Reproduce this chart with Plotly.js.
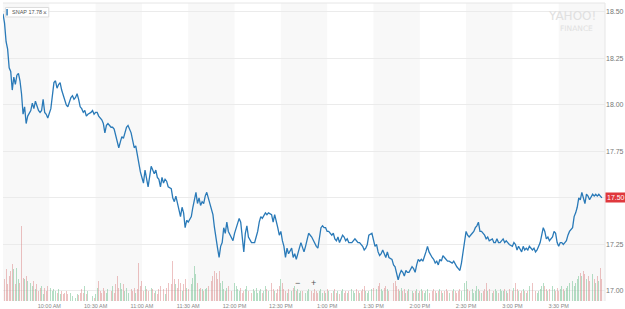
<!DOCTYPE html>
<html>
<head>
<meta charset="utf-8">
<script src="https://cdn.plot.ly/plotly-3.0.1.min.js"></script>
<style>
html,body{margin:0;padding:0;background:#fff;}
#chart{width:625px;height:309px;}
</style>
</head>
<body>
<div id="chart"></div>
<script>
// ---- data ----
const sessionDate = '2017-03-23';
const ticker = 'SNAP';
const legendPrice = '17.78';
const lastPrice = 17.50;

// minutes after the 9:30 AM open
const minutes = [
0,1,2,3,4,5,6,7,8,9,10,11,12,13,14,15,16,18,19,20,21,22,23,24,25,26,27,28,29,31,32,33,34,35,36,37,38,39,40,41,42,44,45,46,47,48,49,50,51,52,53,54,55,57,58,59,60,61,62,63,
64,65,66,67,68,70,71,72,73,74,75,76,77,78,79,80,81,83,84,85,86,87,88,89,90,91,92,93,94,96,97,98,99,100,101,102,103,104,105,106,107,109,110,111,112,113,114,115,116,117,118,119,120,122,123,124,125,126,127,128,
129,130,131,132,133,135,136,137,138,139,140,141,142,143,144,145,146,148,149,150,151,152,153,154,155,156,157,158,159,161,162,163,164,165,166,167,168,169,170,171,172,174,175,176,177,178,179,180,181,182,183,184,185,187,188,189,190,191,192,193,
194,195,196,197,198,200,201,202,203,204,205,206,207,208,209,210,211,213,214,215,216,217,218,219,220,221,222,223,224,226,227,228,229,230,231,232,233,234,235,236,237,239,240,241,242,243,244,245,246,247,248,249,250,252,253,254,255,256,257,258,
259,260,261,262,263,265,266,267,268,269,270,271,272,273,274,275,276,278,279,280,281,282,283,284,285,286,287,288,289,291,292,293,294,295,296,297,298,299,300,301,302,304,305,306,307,308,309,310,311,312,313,314,315,317,318,319,320,321,322,323,
324,325,326,327,328,330,331,332,333,334,335,336,337,338,339,340,341,343,344,345,346,347,348,349,350,351,352,353,354,356,357,358,359,360,361,362,363,364,365,366,367,369,370,371,372,373,374,375,376,377,378,379,380,382,383,384,385,386,387,388
];

const prices = [
18.49,18.44,18.34,18.30,18.20,18.18,18.08,18.15,18.11,18.16,18.17,18.13,18.06,17.95,17.99,17.90,17.94,17.97,18.01,17.98,18.02,17.99,17.97,17.96,17.97,18.03,17.96,17.95,17.93,17.98,18.04,18.12,18.13,18.09,18.11,18.12,18.08,18.05,18.03,18.00,17.99,18.04,18.05,18.03,18.04,18.06,18.03,17.99,17.98,17.96,17.97,17.94,17.95,17.96,17.97,17.95,17.96,17.96,17.94,17.93,
17.92,17.90,17.85,17.89,17.90,17.88,17.88,17.87,17.84,17.80,17.77,17.80,17.83,17.82,17.85,17.88,17.89,17.85,17.81,17.77,17.78,17.73,17.69,17.64,17.61,17.58,17.65,17.61,17.56,17.67,17.65,17.63,17.65,17.61,17.60,17.56,17.61,17.58,17.60,17.59,17.56,17.55,17.50,17.48,17.51,17.47,17.44,17.40,17.45,17.42,17.34,17.38,17.37,17.40,17.45,17.50,17.53,17.47,17.50,17.46,
17.48,17.47,17.51,17.53,17.50,17.44,17.41,17.34,17.27,17.23,17.18,17.24,17.26,17.34,17.31,17.37,17.32,17.28,17.27,17.31,17.34,17.37,17.39,17.37,17.27,17.21,17.31,17.35,17.29,17.26,17.26,17.26,17.29,17.32,17.37,17.40,17.39,17.41,17.42,17.41,17.42,17.41,17.37,17.41,17.38,17.34,17.30,17.32,17.27,17.24,17.18,17.23,17.20,17.23,17.18,17.20,17.17,17.21,17.23,17.26,
17.23,17.21,17.24,17.27,17.31,17.29,17.27,17.26,17.24,17.23,17.29,17.34,17.35,17.34,17.34,17.32,17.32,17.30,17.31,17.28,17.27,17.29,17.26,17.28,17.30,17.29,17.27,17.28,17.26,17.26,17.27,17.28,17.27,17.26,17.26,17.25,17.24,17.22,17.23,17.25,17.30,17.31,17.27,17.24,17.25,17.21,17.19,17.20,17.22,17.20,17.18,17.21,17.18,17.17,17.14,17.13,17.10,17.06,17.09,17.11,
17.10,17.08,17.11,17.10,17.10,17.13,17.12,17.10,17.14,17.17,17.16,17.17,17.16,17.18,17.21,17.24,17.21,17.18,17.17,17.15,17.16,17.14,17.17,17.16,17.19,17.18,17.17,17.16,17.16,17.15,17.16,17.14,17.13,17.12,17.11,17.15,17.20,17.26,17.32,17.30,17.29,17.31,17.32,17.34,17.35,17.37,17.32,17.32,17.31,17.30,17.28,17.29,17.27,17.28,17.26,17.26,17.28,17.26,17.26,17.27,
17.28,17.26,17.27,17.26,17.25,17.24,17.26,17.25,17.22,17.24,17.22,17.21,17.24,17.22,17.23,17.22,17.24,17.22,17.23,17.21,17.22,17.24,17.26,17.30,17.34,17.32,17.28,17.29,17.27,17.29,17.32,17.31,17.26,17.24,17.26,17.26,17.25,17.26,17.27,17.30,17.32,17.34,17.40,17.42,17.45,17.50,17.49,17.53,17.50,17.47,17.52,17.51,17.49,17.52,17.51,17.52,17.51,17.52,17.51,17.50
];

// volume (thousands of shares, same minutes as prices)
const volume = [
60,22,32,17,25,30,37,32,17,33,22,18,75,23,22,25,20,18,15,20,12,17,10,13,15,7,13,10,15,13,10,12,10,8,12,7,10,7,8,10,7,8,5,7,3,7,6,8,12,8,15,7,10,7,5,3,7,13,20,10,
8,13,10,8,12,10,15,8,17,25,13,18,12,17,10,13,8,12,10,13,8,12,38,15,20,10,15,12,10,13,12,8,10,7,12,15,10,12,7,13,18,17,40,22,17,13,22,18,10,17,22,13,12,17,23,35,27,18,12,13,
12,10,12,13,15,20,25,30,28,22,30,18,20,12,10,13,15,10,12,18,15,12,10,13,8,10,12,15,10,8,12,10,13,8,10,12,8,10,15,12,10,18,12,10,8,12,15,22,18,12,10,8,12,10,13,15,10,12,8,10,
10,12,8,10,12,10,8,12,10,8,10,12,8,10,8,12,10,8,10,12,8,10,7,10,12,8,10,8,10,12,10,8,12,10,8,10,12,15,10,8,10,12,13,10,12,15,18,12,10,13,15,12,10,13,18,20,15,12,10,13,
10,12,8,10,12,10,8,10,12,8,10,12,10,8,10,12,8,10,12,10,8,10,12,10,8,10,12,10,8,10,12,10,8,10,12,10,15,18,20,12,10,12,8,10,15,12,10,8,10,12,18,10,12,8,10,12,10,8,12,10,
10,12,10,8,12,10,13,18,12,10,8,10,12,10,8,10,15,18,12,10,8,10,12,15,18,15,12,10,12,15,12,10,13,10,12,15,12,10,13,15,18,20,15,18,22,25,28,25,30,27,22,25,20,27,22,18,25,20,33,22
];

const yTicks = [17.00, 17.25, 17.50, 17.75, 18.00, 18.25, 18.50];
const xTickClock = ['09:30','10:00','10:30','11:00','11:30','12:00','12:30','13:00','13:30','14:00','14:30','15:00','15:30'];

// ---- helpers ----
function pad(n){ return (n < 10 ? '0' : '') + n; }
function toTime(m){
  const total = 9*60 + 30 + m;
  return sessionDate + ' ' + pad(Math.floor(total/60)) + ':' + pad(total % 60) + ':00';
}
const times = minutes.map(toTime);
const n = Math.min(prices.length, volume.length, minutes.length);
const volColors = [];
for (let i = 0; i < n; i++) {
  const up = i === 0 ? false : prices[i] >= prices[i-1];
  volColors.push(up ? 'rgba(120,195,150,0.55)' : 'rgba(215,120,120,0.45)');
}

const openT = sessionDate + ' 09:30:00';
const closeT = sessionDate + ' 16:00:00';
const bandStarts = ['09:30','10:30','11:30','12:30','13:30','14:30','15:30'];
const bandEnds   = ['10:00','11:00','12:00','13:00','14:00','15:00','16:00'];

const shapes = bandStarts.map((s, i) => ({
  type:'rect', xref:'x', yref:'paper', layer:'below',
  x0: sessionDate + ' ' + s + ':00', x1: sessionDate + ' ' + bandEnds[i] + ':00',
  y0:0, y1:1, fillcolor:'#f8f8f8', line:{width:0}
}));
// top border & right border
shapes.push({type:'line', xref:'paper', yref:'paper', x0:0, x1:1, y0:1, y1:1, line:{color:'#e6e6e6', width:1}});
shapes.push({type:'line', xref:'paper', yref:'paper', x0:1, x1:1, y0:0, y1:1, line:{color:'#e6e6e6', width:1}});
// legend chip
shapes.push({type:'rect', xref:'paper', yref:'paper', x0:0.004, x1:0.076, y0:0.953, y1:0.985, fillcolor:'#ffffff', line:{color:'#dddddd', width:1}});
shapes.push({type:'rect', xref:'paper', yref:'paper', x0:0.0055, x1:0.008, y0:0.958, y1:0.98, fillcolor:'#2a7ab8', line:{width:0}});

const traces = [
  {
    type:'bar', x: times.slice(0,n), y: volume.slice(0,n), yaxis:'y2',
    marker:{color: volColors, line:{width:0}}, width: 38000,
    hoverinfo:'skip'
  },
  {
    type:'scatter', mode:'lines', x: times.slice(0,n), y: prices.slice(0,n),
    line:{color:'#2a7ab8', width:1.3}, hoverinfo:'skip'
  }
];

const layout = {
  width:625, height:309,
  margin:{l:3, r:20, t:3, b:8},
  paper_bgcolor:'#ffffff', plot_bgcolor:'#ffffff',
  showlegend:false,
  bargap:0,
  font:{family:'Liberation Sans, Arial, sans-serif', color:'#777'},
  xaxis:{
    type:'date', range:[openT, closeT],
    tickvals: xTickClock.map(c => sessionDate + ' ' + c + ':00'),
    tickformat:'%-I:%M %p',
    showgrid:false, zeroline:false, showline:false, ticks:'',
    tickfont:{size:5.5, color:'#888'}
  },
  yaxis:{
    side:'right', range:[16.946, 18.548],
    tickvals: yTicks, ticktext: yTicks.map(v => v.toFixed(2)),
    showgrid:true, gridcolor:'#ebebeb', gridwidth:1, zeroline:false, showline:false,
    ticks:'', tickfont:{size:7, color:'#777'}
  },
  yaxis2:{
    overlaying:'y', range:[0, 298], visible:false, fixedrange:true
  },
  shapes: shapes,
  annotations:[
    {xref:'paper', yref:'paper', x:0.011, y:0.969, xanchor:'left', yanchor:'middle',
     text: ticker + ' ' + legendPrice, showarrow:false, font:{size:5.5, color:'#555'}},
    {xref:'paper', yref:'paper', x:0.0705, y:0.969, xanchor:'center', yanchor:'middle',
     text:'×', showarrow:false, font:{size:6.5, color:'#666'}},
    {xref:'paper', yref:'paper', x:0.988, y:0.985, xanchor:'right', yanchor:'top',
     text:'YAHOO!', showarrow:false, font:{size:12, color:'#e0e0e0', family:'DejaVu Sans, sans-serif'}},
    {xref:'paper', yref:'paper', x:0.984, y:0.935, xanchor:'right', yanchor:'top',
     text:'FINANCE', showarrow:false, font:{size:7.5, color:'#e0e0e0', family:'DejaVu Sans, sans-serif'}},
    {xref:'paper', yref:'y', x:1.0, y:lastPrice, xanchor:'left', yanchor:'middle',
     text: lastPrice.toFixed(2), showarrow:false, bgcolor:'#e0383d', borderpad:1,
     font:{size:7, color:'#ffffff'}},
    {xref:'paper', yref:'paper', x:0.49, y:0.06, xanchor:'center', yanchor:'middle',
     text:'−', showarrow:false, font:{size:9, color:'#555'}},
    {xref:'paper', yref:'paper', x:0.515, y:0.06, xanchor:'center', yanchor:'middle',
     text:'+', showarrow:false, font:{size:9, color:'#555'}}
  ]
};

Plotly.newPlot('chart', traces, layout, {displayModeBar:false, staticPlot:true});
</script>
</body>
</html>
